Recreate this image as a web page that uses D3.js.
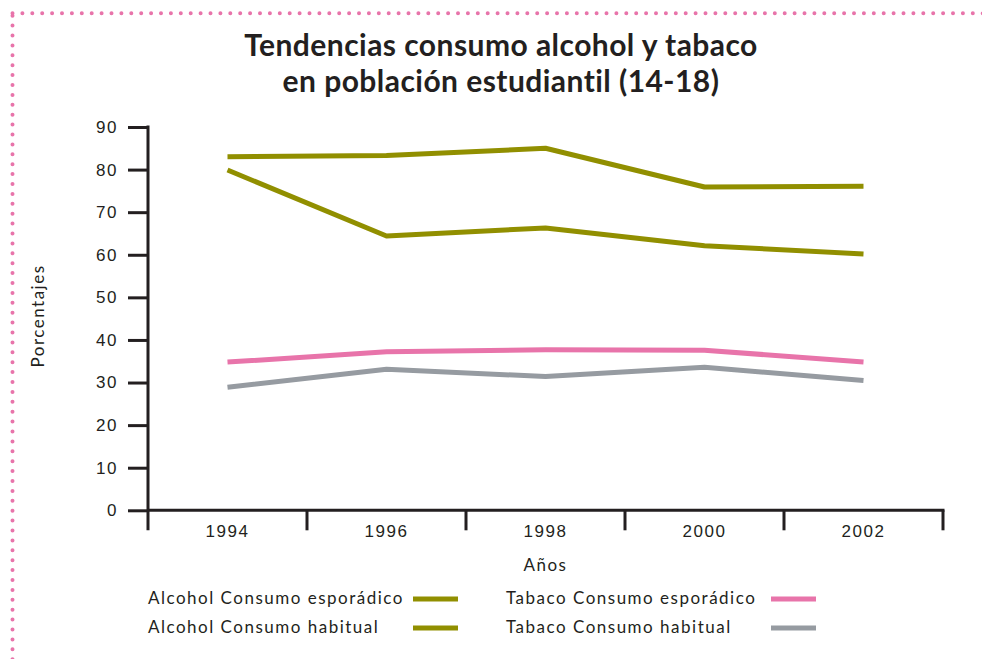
<!DOCTYPE html>
<html>
<head>
<meta charset="utf-8">
<script src="https://cdn.jsdelivr.net/npm/d3@7"></script>
<style>
  body { margin: 0; background: #fff; }
  svg { display: block; font-family: "Lato", "Open Sans", sans-serif; }
</style>
</head>
<body>
<svg id="chart" width="982" height="659"></svg>
<script>
const years = ["1994", "1996", "1998", "2000", "2002"];
const alcoholEsporadico = [83.0, 83.3, 85.0, 75.9, 76.1];
const alcoholHabitual = [79.9, 64.4, 66.3, 62.1, 60.2];
const tabacoEsporadico = [34.8, 37.2, 37.7, 37.6, 34.8];
const tabacoHabitual = [28.9, 33.1, 31.4, 33.6, 30.5];
const yTicks = [0, 10, 20, 30, 40, 50, 60, 70, 80, 90];
const seriesNames = ["Alcohol Consumo esporádico", "Alcohol Consumo habitual", "Tabaco Consumo esporádico", "Tabaco Consumo habitual"];
const seriesColors = ["#918f00", "#918f00", "#e874aa", "#969ba1"];
const titleLines = ["Tendencias consumo alcohol y tabaco", "en población estudiantil (14-18)"];

const series = [alcoholEsporadico, alcoholHabitual, tabacoEsporadico, tabacoHabitual].map((v, i) => ({
  name: seriesNames[i], color: seriesColors[i], values: v
}));

const svg = d3.select("#chart");
const ink = "#231f20";

// dotted border (top + left)
svg.append("rect")
  .attr("x", 12.5).attr("y", 13.3).attr("width", 1200).attr("height", 900)
  .attr("fill", "none").attr("stroke", "#e874aa").attr("stroke-width", 4)
  .attr("stroke-linecap", "round").attr("stroke-dasharray", "0 9.9");

// title
svg.append("text").attr("x", 501).attr("y", 56)
  .attr("text-anchor", "middle").attr("font-size", 30).attr("font-weight", 700).attr("fill", ink)
  .attr("letter-spacing", 0.45)
  .selectAll("tspan").data(titleLines).join("tspan")
  .attr("x", 501).attr("dy", (d, i) => i === 0 ? 0 : 36).text(d => d);

const pLeft = 148, pRight = 943, pTop = 127, pBottom = 510.3;
const x = d3.scaleBand().domain(years).range([pLeft, pRight]).padding(0);
const y = d3.scaleLinear().domain([0, 90]).range([pBottom, pTop]);

// y axis
const yAxis = svg.append("g").attr("transform", `translate(${pLeft},0)`)
  .call(d3.axisLeft(y).tickValues(yTicks).tickSize(20).tickPadding(10).tickSizeOuter(0));
yAxis.select(".domain").remove();
yAxis.selectAll(".tick line").attr("stroke", ink).attr("stroke-width", 3);
yAxis.selectAll(".tick text").attr("font-size", 17).attr("fill", ink).attr("letter-spacing", 1.5);
svg.append("line").attr("x1", pLeft).attr("x2", pLeft).attr("y1", pTop - 1.5).attr("y2", pBottom + 20)
  .attr("stroke", ink).attr("stroke-width", 3);

// x axis
const xAxis = svg.append("g").attr("transform", `translate(0,${pBottom})`)
  .call(d3.axisBottom(x).tickSize(0).tickPadding(15));
xAxis.select(".domain").remove();
xAxis.selectAll(".tick text").attr("font-size", 17).attr("fill", ink).attr("letter-spacing", 1.5);
svg.append("line").attr("x1", pLeft).attr("x2", pRight + 1.5).attr("y1", pBottom).attr("y2", pBottom)
  .attr("stroke", ink).attr("stroke-width", 3);
const boundaries = years.slice(1).map(d => x(d)).concat([x(years[years.length - 1]) + x.bandwidth()]);
svg.append("g").selectAll("line").data(boundaries).join("line")
  .attr("x1", d => d).attr("x2", d => d)
  .attr("y1", pBottom).attr("y2", pBottom + 20)
  .attr("stroke", ink).attr("stroke-width", 3);

// axis titles
svg.append("text").attr("x", (pLeft + pRight) / 2).attr("y", 571)
  .attr("text-anchor", "middle").attr("font-size", 17).attr("fill", ink).attr("letter-spacing", 1.5).text("Años");
svg.append("text").attr("transform", "translate(44,316) rotate(-90)")
  .attr("text-anchor", "middle").attr("font-size", 17).attr("fill", ink).attr("letter-spacing", 1.5).text("Porcentajes");

// lines
const line = d3.line().x((d, i) => x(years[i]) + x.bandwidth() / 2).y(d => y(d));
svg.append("g").selectAll("path").data(series).join("path")
  .attr("d", d => line(d.values))
  .attr("fill", "none").attr("stroke", d => d.color).attr("stroke-width", 5)
  .attr("stroke-linejoin", "round");

// legend
const legendPos = [[148, 413, 604], [148, 413, 633], [506, 771, 604], [506, 771, 633]];
const lg = svg.append("g").selectAll("g").data(series).join("g");
lg.append("text").attr("x", (d, i) => legendPos[i][0]).attr("y", (d, i) => legendPos[i][2])
  .attr("font-size", 17).attr("fill", ink).attr("letter-spacing", 1.5).text(d => d.name);
lg.append("line").attr("x1", (d, i) => legendPos[i][1]).attr("x2", (d, i) => legendPos[i][1] + 45)
  .attr("y1", (d, i) => legendPos[i][2] - 5).attr("y2", (d, i) => legendPos[i][2] - 5)
  .attr("stroke", d => d.color).attr("stroke-width", 5);
</script>
</body>
</html>
